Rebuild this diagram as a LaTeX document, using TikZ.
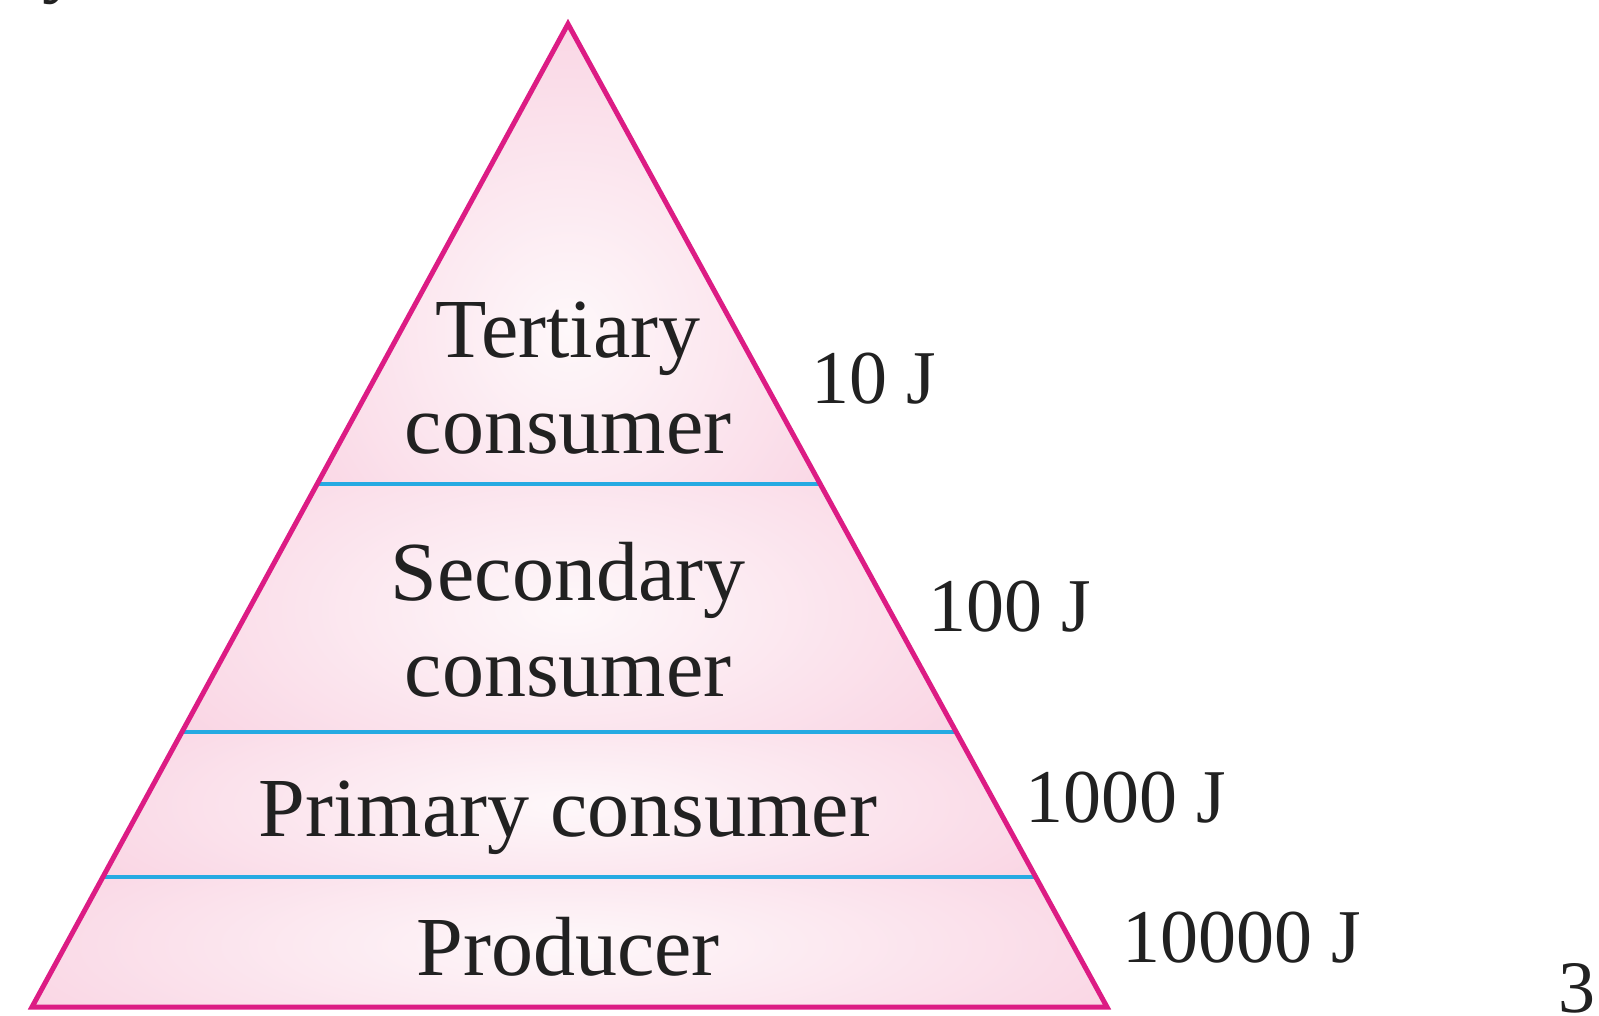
\documentclass[tikz,border=0pt]{standalone}
\usepackage{fontspec}
\setmainfont{Liberation Serif}
\definecolor{edgepink}{RGB}{220,28,132}
\definecolor{bandblue}{RGB}{38,170,226}
\definecolor{fillpink}{RGB}{249,212,227}
\definecolor{fillwhite}{RGB}{254,248,250}
\begin{document}
\begin{tikzpicture}[x=1pt,y=-1pt,
  lbl/.style={font=\fontsize{84}{96}\selectfont, text=black!87, inner sep=0pt, align=center},
  val/.style={font=\fontsize{76}{86}\selectfont, text=black!87, inner sep=0pt, anchor=west},
  divider/.style={draw=bandblue, line width=4pt},
  outline/.style={draw=edgepink, line width=5pt, line join=miter}]
\useasboundingbox (0,0) rectangle (1599,1016);
\coordinate (apex) at (568,24);
\coordinate (bl) at (32,1007);
\coordinate (br) at (1107,1007);
\coordinate (d1l) at (316,484); \coordinate (d1r) at (820,484);
\coordinate (d2l) at (181,732); \coordinate (d2r) at (956,732);
\coordinate (d3l) at (102,877); \coordinate (d3r) at (1036,877);
% shading, band by band
\begin{scope}
\clip (apex) -- (d1r) -- (d1l) -- cycle;
\shade[inner color=fillwhite, outer color=fillpink] (568,330) ellipse (330 and 330);
\end{scope}
\begin{scope}
\clip (d1l) -- (d1r) -- (d2r) -- (d2l) -- cycle;
\shade[inner color=fillwhite, outer color=fillpink] (568,610) ellipse (480 and 230);
\end{scope}
\begin{scope}
\clip (d2l) -- (d2r) -- (d3r) -- (d3l) -- cycle;
\shade[inner color=fillwhite, outer color=fillpink] (568,805) ellipse (560 and 150);
\end{scope}
\begin{scope}
\clip (d3l) -- (d3r) -- (br) -- (bl) -- cycle;
\shade[inner color=fillwhite, outer color=fillpink] (568,945) ellipse (640 and 150);
\end{scope}
% dividers
\draw[divider] (d1l) -- (d1r);
\draw[divider] (d2l) -- (d2r);
\draw[divider] (d3l) -- (d3r);
\draw[outline] (apex) -- (br) -- (bl) -- cycle;
% labels
\node[lbl] (tert) at (568,378) {Tertiary\\consumer};
\node[lbl] (sec) at (568,620) {Secondary\\consumer};
\node[lbl] (prim) at (568,818) {Primary consumer};
\node[lbl] (prod) at (568,947) {Producer};
\node[val] (v1) at (811,379) {10 J};
\node[val] (v2) at (928,607) {100 J};
\node[val] (v3) at (1025,798) {1000 J};
\node[val] (v4) at (1122,938) {10000 J};
\node[font=\fontsize{74}{86}\selectfont, text=black!87, inner sep=0pt, anchor=base west] (pg) at (1558,1012) {3};
\node[font=\fontsize{80}{86}\selectfont, text=black!87, inner sep=0pt, anchor=base west] (yy) at (42,-12) {y};
\end{tikzpicture}
\end{document}
